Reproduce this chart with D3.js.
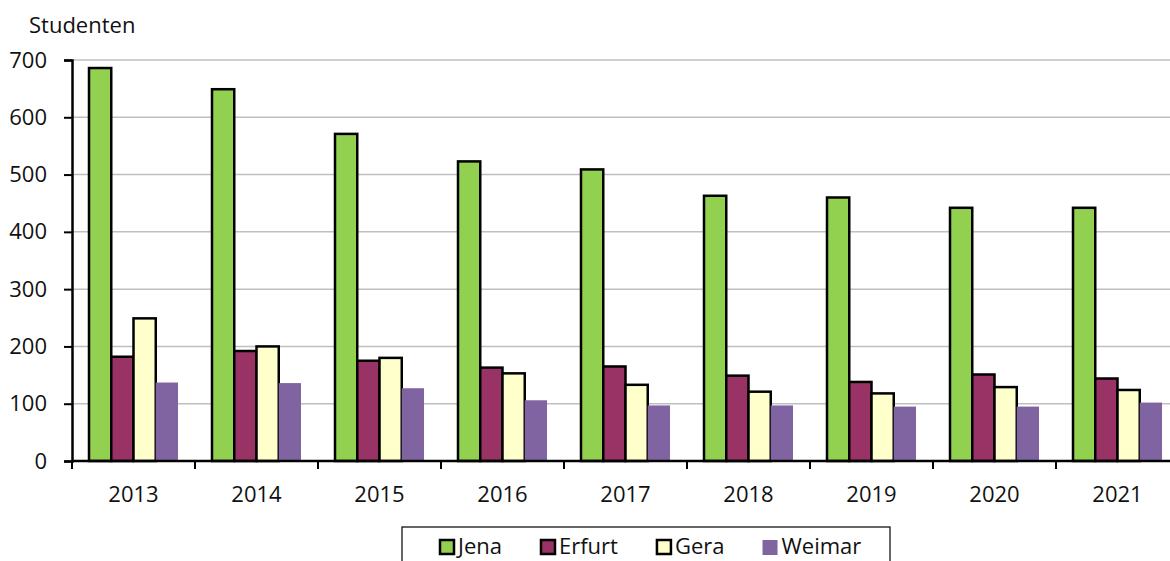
<!DOCTYPE html>
<html>
<head>
<meta charset="utf-8">
<script src="https://cdn.jsdelivr.net/npm/d3@7"></script>
<style>
  body { margin: 0; background: #fff; }
  svg { display: block; }
</style>
</head>
<body>
<div id="chart"></div>
<script>
const years = ["2013", "2014", "2015", "2016", "2017", "2018", "2019", "2020", "2021"];
const seriesNames = ["Jena", "Erfurt", "Gera", "Weimar"];
const jena = [686, 649, 571, 523, 509, 463, 460, 442, 442];
const erfurt = [182, 192, 175, 163, 165, 149, 138, 151, 144];
const gera = [249, 200, 180, 153, 133, 121, 118, 129, 124];
const weimar = [137, 136, 127, 106, 97, 97, 95, 95, 102];
const yTicks = [0, 100, 200, 300, 400, 500, 600, 700];
const colors = ["#92D050", "#993366", "#FFFFCC", "#8064A2"];
const outlined = [true, true, true, false];

const width = 1170;
const height = 561;
const fontFamily = "'Open Sans', sans-serif";

const values = [jena, erfurt, gera, weimar];
const data = years.map((y, i) => ({
  year: y,
  vals: seriesNames.map((s, k) => ({ key: s, k: k, value: values[k][i] }))
}));

const svg = d3.select("#chart").append("svg")
  .attr("width", width)
  .attr("height", height)
  .attr("font-family", fontFamily);

const x = d3.scaleBand()
  .domain(years)
  .range([72, 1179]);

const x1 = d3.scaleBand()
  .domain(seriesNames)
  .range([17, x.bandwidth() - 17]);

const y = d3.scaleLinear()
  .domain([0, 700])
  .range([461, 60]);

// gridlines
svg.append("g")
  .selectAll("line")
  .data(yTicks.filter(d => d > 0))
  .enter().append("line")
  .attr("x1", 72)
  .attr("x2", width)
  .attr("y1", d => y(d))
  .attr("y2", d => y(d))
  .attr("stroke", "#BFBFBF")
  .attr("stroke-width", 1.5);

// bars
const groups = svg.append("g")
  .selectAll("g")
  .data(data)
  .enter().append("g")
  .attr("transform", d => "translate(" + x(d.year) + ",0)");

groups.selectAll("rect")
  .data(d => d.vals)
  .enter().append("rect")
  .attr("x", d => x1(d.key))
  .attr("width", x1.bandwidth())
  .attr("y", d => y(d.value))
  .attr("height", d => y(0) - y(d.value))
  .attr("fill", d => colors[d.k])
  .attr("stroke", d => outlined[d.k] ? "#000" : "none")
  .attr("stroke-width", 2.5);

// y axis
const yAxis = svg.append("g")
  .attr("transform", "translate(72,0)")
  .call(d3.axisLeft(y).tickValues(yTicks).tickSize(8).tickPadding(17));
yAxis.select(".domain").attr("stroke", "#000").attr("stroke-width", 2.5);
yAxis.selectAll(".tick line").attr("stroke", "#000").attr("stroke-width", 2);
yAxis.selectAll(".tick text")
  .attr("font-family", fontFamily)
  .attr("font-size", 22)
  .attr("fill", "#111");

// x axis
const xAxis = svg.append("g")
  .attr("transform", "translate(0," + y(0) + ")");
xAxis.append("line")
  .attr("x1", 72)
  .attr("x2", width)
  .attr("stroke", "#000")
  .attr("stroke-width", 2.5);
xAxis.selectAll("line.tick")
  .data(years.concat(["end"]))
  .enter().append("line")
  .attr("class", "tick")
  .attr("x1", (d, i) => 72 + i * x.step())
  .attr("x2", (d, i) => 72 + i * x.step())
  .attr("y1", 0)
  .attr("y2", 8)
  .attr("stroke", "#000")
  .attr("stroke-width", 2);
xAxis.selectAll("text")
  .data(years)
  .enter().append("text")
  .attr("x", d => x(d) + x.bandwidth() / 2)
  .attr("y", 41)
  .attr("text-anchor", "middle")
  .attr("font-size", 22)
  .attr("fill", "#111")
  .text(d => d);

// axis title
svg.append("text")
  .attr("x", 29)
  .attr("y", 33)
  .attr("font-size", 22)
  .attr("fill", "#111")
  .text("Studenten");

// legend
const legend = svg.append("g").attr("transform", "translate(402,527)");
legend.append("rect")
  .attr("width", 488)
  .attr("height", 50)
  .attr("fill", "#fff")
  .attr("stroke", "#000")
  .attr("stroke-width", 1.2);

let lx = 37;
seriesNames.forEach((s, k) => {
  const item = legend.append("g").attr("transform", "translate(" + lx + ",0)");
  item.append("rect")
    .attr("x", outlined[k] ? 1 : 0)
    .attr("y", 13)
    .attr("width", outlined[k] ? 14 : 15)
    .attr("height", outlined[k] ? 14 : 15)
    .attr("fill", colors[k])
    .attr("stroke", outlined[k] ? "#000" : "none")
    .attr("stroke-width", 2.5);
  const t = item.append("text")
    .attr("x", 19)
    .attr("y", 27)
    .attr("font-size", 22)
    .attr("fill", "#111")
    .text(s);
  lx += 19 + t.node().getComputedTextLength() + 38;
});
</script>
</body>
</html>
